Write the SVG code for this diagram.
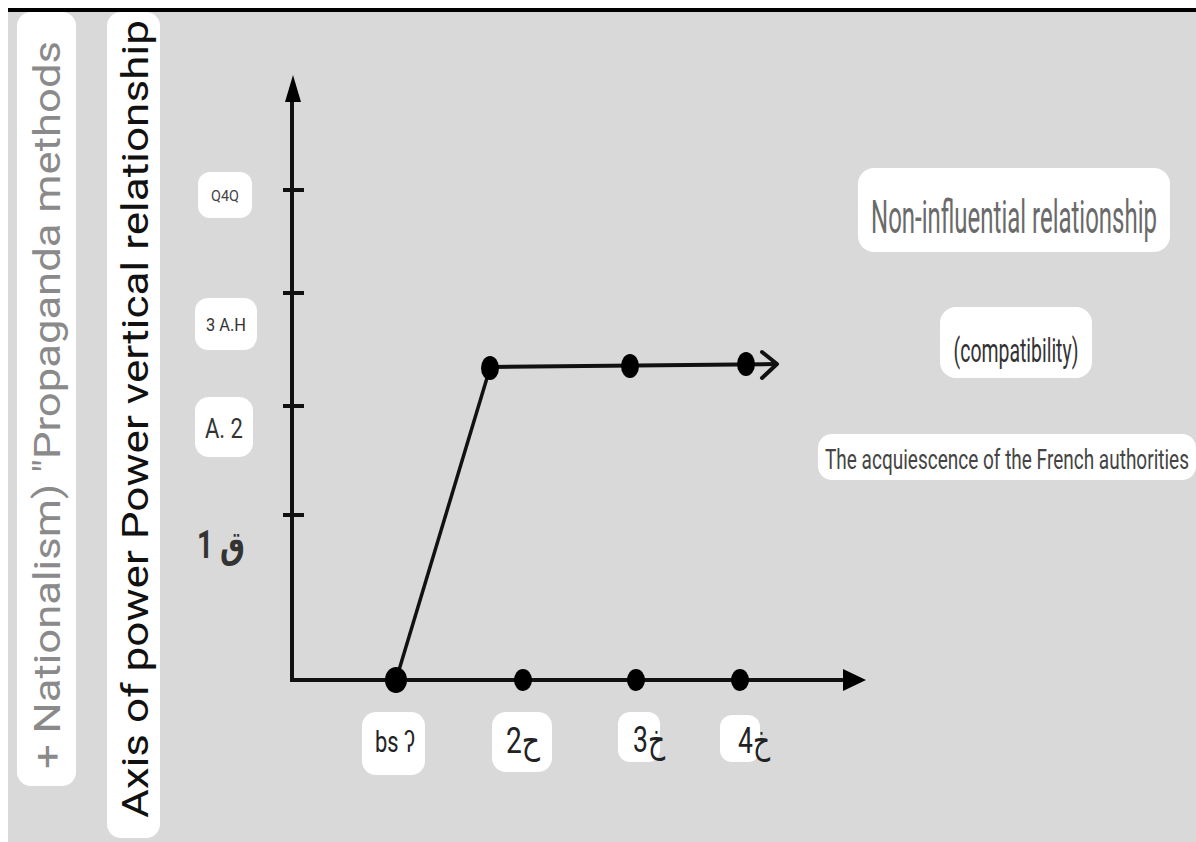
<svg xmlns="http://www.w3.org/2000/svg" width="1196" height="842" viewBox="0 0 1196 842">
<defs>
<style>
.box{fill:#ffffff}
.ax{stroke:#111;stroke-width:4;fill:none}
.dot{fill:#000}
.t{font-family:Roboto,"Liberation Sans","Noto Sans",sans-serif}
.ar{font-family:Roboto,"Noto Sans","DejaVu Sans",sans-serif;direction:ltr;unicode-bidi:bidi-override}
</style>
</defs>
<rect x="0" y="0" width="1196" height="842" fill="#ffffff"/>
<rect x="8" y="12" width="1188" height="830" fill="#d9d9d9"/>
<rect x="8" y="8" width="1188" height="4" fill="#000"/>

<g id="left-label-1">
<rect class="box" x="17" y="12" width="59" height="774" rx="14"/>
<text class="t" transform="translate(60,405) rotate(-90)" text-anchor="middle" font-size="37" fill="#8a8a8a" textLength="728" lengthAdjust="spacingAndGlyphs">+ Nationalism) "Propaganda methods</text>
</g>
<g id="left-label-2">
<rect class="box" x="107" y="12" width="53" height="826" rx="14"/>
<text class="t" transform="translate(148,419) rotate(-90)" text-anchor="middle" font-size="36" fill="#111" textLength="798" lengthAdjust="spacingAndGlyphs">Axis of power Power vertical relationship</text>
</g>

<g id="connectors">
<path class="ax" d="M292,680 L292,100"/>
<path d="M293,75 L285,102 L301,102 Z" fill="#000"/>
<path class="ax" d="M290,680 L845,680"/>
<path d="M866,680 L843,669 L843,691 Z" fill="#000"/>
<path d="M283,190 H304 M283,293 H304 M283,406 H304 M283,515 H304" stroke="#111" stroke-width="4"/>
<path d="M396,680 L490,368" stroke="#111" stroke-width="3.5" fill="none"/>
<path d="M490,367 L776,364" stroke="#111" stroke-width="4" fill="none"/>
<path d="M762,352 L777,364 L762,378" stroke="#111" stroke-width="4" fill="none" stroke-linecap="round" stroke-linejoin="round"/>
<ellipse class="dot" cx="396" cy="680" rx="11" ry="13"/>
<ellipse class="dot" cx="523" cy="680" rx="9" ry="11"/>
<ellipse class="dot" cx="636" cy="680" rx="9" ry="11"/>
<ellipse class="dot" cx="740" cy="680" rx="9" ry="11"/>
<ellipse class="dot" cx="490" cy="368" rx="9" ry="12"/>
<ellipse class="dot" cx="630" cy="366" rx="9" ry="12"/>
<ellipse class="dot" cx="746" cy="364" rx="9" ry="12"/>
</g>

<g id="y-label-q4q">
<rect class="box" x="198" y="172" width="54" height="46" rx="12"/>
<text class="t" x="225" y="201" text-anchor="middle" font-size="15" fill="#444" textLength="28" lengthAdjust="spacingAndGlyphs">Q4Q</text>
</g>
<g id="y-label-3ah">
<rect class="box" x="195" y="298" width="62" height="52" rx="13"/>
<text class="t" x="226" y="331" text-anchor="middle" font-size="19" fill="#333" textLength="40" lengthAdjust="spacingAndGlyphs">3 A.H</text>
</g>
<g id="y-label-a2">
<rect class="box" x="195" y="397" width="58" height="60" rx="14"/>
<text class="t" x="224" y="438" text-anchor="middle" font-size="27" fill="#333" textLength="38" lengthAdjust="spacingAndGlyphs">A. 2</text>
</g>
<g id="y-label-q1">
<text class="ar" x="197" y="558" font-size="38" font-weight="bold" fill="#333" textLength="48" lengthAdjust="spacingAndGlyphs">1 ق</text>
</g>

<g id="x-label-1">
<rect class="box" x="362" y="712" width="63" height="63" rx="14"/>
<text class="t" x="395" y="752" text-anchor="middle" font-size="30" fill="#222" textLength="40" lengthAdjust="spacingAndGlyphs">bs ʔ</text>
</g>
<g id="x-label-2">
<rect class="box" x="492" y="712" width="60" height="60" rx="14"/>
<text class="ar" x="523" y="753" text-anchor="middle" font-size="36" fill="#222" textLength="34" lengthAdjust="spacingAndGlyphs">2ح</text>
</g>
<g id="x-label-3">
<rect class="box" x="618" y="712" width="42" height="50" rx="12"/>
<text class="ar" x="649" y="752" text-anchor="middle" font-size="36" fill="#222" textLength="32" lengthAdjust="spacingAndGlyphs">3خ</text>
</g>
<g id="x-label-4">
<rect class="box" x="720" y="715" width="40" height="47" rx="12"/>
<text class="ar" x="754" y="753" text-anchor="middle" font-size="36" fill="#222" textLength="32" lengthAdjust="spacingAndGlyphs">4خ</text>
</g>

<g id="label-non-influential">
<rect class="box" x="858" y="168" width="312" height="84" rx="16"/>
<text class="t" transform="translate(1014,233) scale(0.58,1)" x="0" y="0" text-anchor="middle" font-size="46" fill="#6a6a6a" textLength="493" lengthAdjust="spacingAndGlyphs">Non-influential relationship</text>
</g>
<g id="label-compatibility">
<rect class="box" x="940" y="307" width="152" height="71" rx="16"/>
<text class="t" transform="translate(1016,362) scale(0.6,1)" x="0" y="0" text-anchor="middle" font-size="34" fill="#333" textLength="208" lengthAdjust="spacingAndGlyphs">(compatibility)</text>
</g>
<g id="label-acquiescence">
<rect class="box" x="818" y="434" width="378" height="46" rx="14"/>
<text class="t" x="1189" y="469" text-anchor="end" font-size="28" fill="#444" textLength="364" lengthAdjust="spacingAndGlyphs">The acquiescence of the French authorities</text>
</g>
</svg>
